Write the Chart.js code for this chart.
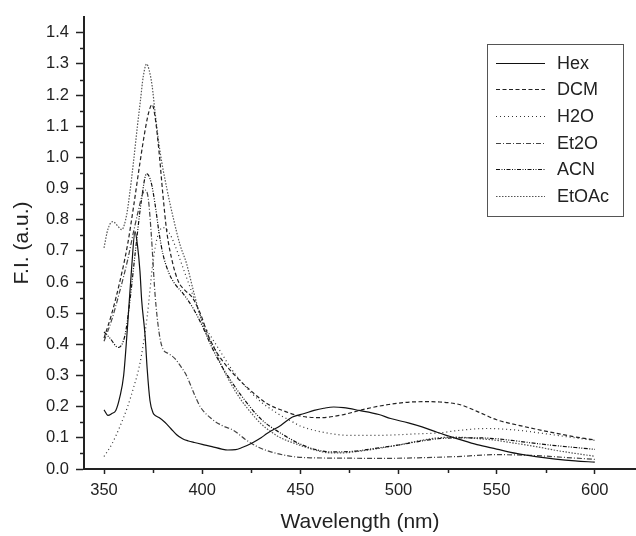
<!DOCTYPE html>
<html><head><meta charset="utf-8">
<script src="https://cdn.jsdelivr.net/npm/chart.js@4/dist/chart.umd.min.js"></script>
<style>html,body{margin:0;padding:0;background:#fff}#wrap{width:636px;height:536px}</style>
</head><body><div id="wrap"><canvas id="c" width="636" height="536"></canvas></div>
<script>
// ---- data (wavelength in nm, fluorescence intensity in a.u.) ----
const seriesNames = ["Hex", "DCM", "H2O", "Et2O", "ACN", "EtOAc"];
const xTickValues = [350, 400, 450, 500, 550, 600];
const yTickValues = [0.0, 0.1, 0.2, 0.3, 0.4, 0.5, 0.6, 0.7, 0.8, 0.9, 1.0, 1.1, 1.2, 1.3, 1.4];

const hexNm = [350,352,354,356,358,360,362,364,365.8,367,368.3,369.2,370.9,372,373.4,375,376,378,381,384,387,390,393,396,400,405,410,413,417,420,425,430,433,440,446,452,457,462,467,472,480,490,496,505,512,520,526,531,540,550,560,570,580,590,600];
const hexFI = [0.19,0.172,0.178,0.188,0.23,0.30,0.46,0.64,0.762,0.72,0.635,0.54,0.43,0.32,0.22,0.18,0.172,0.165,0.15,0.13,0.11,0.097,0.09,0.085,0.079,0.072,0.064,0.061,0.062,0.068,0.082,0.10,0.114,0.14,0.167,0.178,0.188,0.195,0.199,0.197,0.188,0.175,0.162,0.148,0.135,0.117,0.105,0.095,0.078,0.064,0.05,0.04,0.032,0.026,0.022];

const dcmNm = [350,354,358,362,365,368,371,373,374.5,376,378,380,382,385,388,391,395,399,403,406,410,416,425,433,440,450,460,470,484,495,506,515,521,531,540,550,560,570,580,590,600];
const dcmFI = [0.42,0.5,0.6,0.72,0.84,0.97,1.09,1.15,1.17,1.13,1.02,0.88,0.76,0.66,0.6,0.575,0.55,0.5,0.43,0.39,0.35,0.305,0.25,0.21,0.19,0.17,0.165,0.172,0.194,0.207,0.215,0.216,0.215,0.207,0.185,0.158,0.142,0.128,0.115,0.103,0.093];

const h2oNm = [350,354,358,362,365,368,370,372,375,377,380,383,386,390,394,398,402,405,410,415,420,425,430,436,440,445,450,460,475,490,500,510,521,531,545,560,575,590,600];
const h2oFI = [0.04,0.08,0.135,0.2,0.26,0.33,0.40,0.49,0.667,0.74,0.775,0.76,0.72,0.65,0.58,0.51,0.45,0.42,0.37,0.32,0.28,0.245,0.215,0.188,0.172,0.155,0.138,0.12,0.108,0.108,0.11,0.113,0.116,0.124,0.13,0.125,0.113,0.1,0.092];

const et2oNm = [350,354,358,362,365,367.5,369.5,371,372.5,374,376,378,380,383,386,389,392,396,399,405,410,416,422,428,435,446,455,470,490,510,530,550,570,585,600];
const et2oFI = [0.41,0.48,0.57,0.67,0.76,0.83,0.88,0.895,0.87,0.76,0.56,0.44,0.385,0.37,0.355,0.33,0.3,0.24,0.2,0.16,0.14,0.124,0.095,0.072,0.055,0.04,0.036,0.035,0.034,0.036,0.04,0.046,0.043,0.037,0.031];

const acnNm = [350,353,357.3,360.7,363,366,369,371.7,374,376,378,380,383,386,390,395,400,405,410,415,420,430,440,450,458,465,475,490,500,510,520,530,540,550,560,570,580,590,600];
const acnFI = [0.44,0.42,0.39,0.43,0.53,0.7,0.86,0.948,0.92,0.85,0.76,0.69,0.63,0.595,0.565,0.52,0.46,0.39,0.33,0.28,0.235,0.16,0.115,0.08,0.062,0.055,0.056,0.068,0.077,0.088,0.097,0.1,0.1,0.097,0.09,0.082,0.075,0.069,0.063];

const etoacNm = [350,352,354.5,357,359,361.5,363,365,367,368.5,370,371.7,373,374.5,376,378.5,382,385.3,388.7,392,396,400,402.3,406.5,410,415,420,425,430,435,440,450,458,465,472,480,490,500,510,520,530,540,550,560,570,580,590,600];
const etoacFI = [0.71,0.77,0.794,0.78,0.768,0.815,0.88,0.985,1.1,1.18,1.26,1.30,1.28,1.23,1.145,1.02,0.9,0.805,0.72,0.66,0.56,0.47,0.433,0.385,0.33,0.27,0.22,0.18,0.145,0.12,0.1,0.076,0.06,0.052,0.052,0.057,0.066,0.077,0.09,0.1,0.102,0.098,0.092,0.082,0.072,0.06,0.05,0.041];

// ---- build ----
const toPts = (xs, ys) => xs.map((x, i) => ({x: x, y: ys[i]}));
const styles = [
  {color: '#111', dash: []},
  {color: '#222', dash: [4, 2.5]},
  {color: '#333', dash: [1, 3]},
  {color: '#444', dash: [5, 2, 1, 2]},
  {color: '#111', dash: [4, 1.5, 1, 1.5, 1, 1.5]},
  {color: '#555', dash: [1.5, 1.5]}
];
const xs = [hexNm, dcmNm, h2oNm, et2oNm, acnNm, etoacNm];
const ys = [hexFI, dcmFI, h2oFI, et2oFI, acnFI, etoacFI];
const datasets = seriesNames.map((n, i) => ({
  label: n,
  data: toPts(xs[i], ys[i]),
  borderColor: styles[i].color,
  borderDash: styles[i].dash,
  borderWidth: 1.2,
  pointRadius: 0,
  fill: false,
  cubicInterpolationMode: 'monotone'
}));

const FONT = "'Liberation Sans', Arial, Helvetica, sans-serif";

const extras = {
  id: 'extras',
  afterDraw(chart) {
    const ctx = chart.ctx;
    const xS = chart.scales.x, yS = chart.scales.y;
    const ca = chart.chartArea;
    ctx.save();
    ctx.strokeStyle = '#222';
    ctx.lineWidth = 1.5;
    ctx.setLineDash([]);
    // minor ticks
    [375, 425, 475, 525, 575].forEach(v => {
      const p = Math.round(xS.getPixelForValue(v)) + 0.5;
      ctx.beginPath(); ctx.moveTo(p, ca.bottom); ctx.lineTo(p, ca.bottom + 4); ctx.stroke();
    });
    for (let k = 0; k < 14; k++) {
      const v = 0.05 + k * 0.1;
      const p = Math.round(yS.getPixelForValue(v)) + 0.5;
      ctx.beginPath(); ctx.moveTo(ca.left, p); ctx.lineTo(ca.left - 4, p); ctx.stroke();
    }
    // legend box
    const bx = 487, by = 44, bw = 136, bh = 172;
    ctx.lineWidth = 1;
    ctx.strokeStyle = '#555';
    ctx.strokeRect(bx + 0.5, by + 0.5, bw, bh);
    ctx.font = '18px ' + FONT;
    ctx.fillStyle = '#222';
    ctx.textBaseline = 'middle';
    ctx.textAlign = 'left';
    chart.data.datasets.forEach((ds, i) => {
      const cy = 62.7 + i * 26.67;
      ctx.strokeStyle = ds.borderColor;
      ctx.lineWidth = 1.2;
      ctx.setLineDash(ds.borderDash);
      ctx.beginPath(); ctx.moveTo(496, Math.round(cy) + 0.5); ctx.lineTo(545, Math.round(cy) + 0.5); ctx.stroke();
      ctx.setLineDash([]);
      ctx.fillText(ds.label, 557, cy + 1);
    });
    ctx.restore();
  }
};

new Chart(document.getElementById('c'), {
  type: 'line',
  data: {datasets: datasets},
  options: {
    responsive: false,
    animation: false,
    devicePixelRatio: 1,
    layout: {padding: {left: 0, right: 0, top: 14, bottom: 0}},
    plugins: {legend: {display: false}, tooltip: {enabled: false}},
    scales: {
      x: {
        type: 'linear',
        min: 339.8, max: 621,
        afterBuildTicks: s => { s.ticks = xTickValues.map(v => ({value: v})); },
        afterFit: s => { s.height = 67; },
        ticks: {font: {family: FONT, size: 16.5}, color: '#222', padding: 7, maxRotation: 0, autoSkip: false, callback: v => String(v)},
        grid: {display: true, drawOnChartArea: false, drawTicks: true, tickLength: 5, tickColor: '#222', tickWidth: 1.5},
        border: {display: true, color: '#222', width: 2},
        title: {display: true, text: 'Wavelength (nm)', font: {family: FONT, size: 21}, color: '#222', padding: {top: 0, bottom: 1}}
      },
      y: {
        type: 'linear',
        min: 0, max: 1.451,
        afterBuildTicks: s => { s.ticks = yTickValues.map(v => ({value: v})); },
        afterFit: s => { s.width = 84; },
        ticks: {font: {family: FONT, size: 16.5}, color: '#222', padding: 7, autoSkip: false, callback: v => Number(v).toFixed(1)},
        grid: {display: true, drawOnChartArea: false, drawTicks: true, tickLength: 8, tickColor: '#222', tickWidth: 1.5},
        border: {display: true, color: '#222', width: 2},
        title: {display: true, text: 'F.I. (a.u.)', font: {family: FONT, size: 21}, color: '#222', padding: {top: 10, bottom: 0}}
      }
    }
  },
  plugins: [extras]
});
</script>
</body></html>
